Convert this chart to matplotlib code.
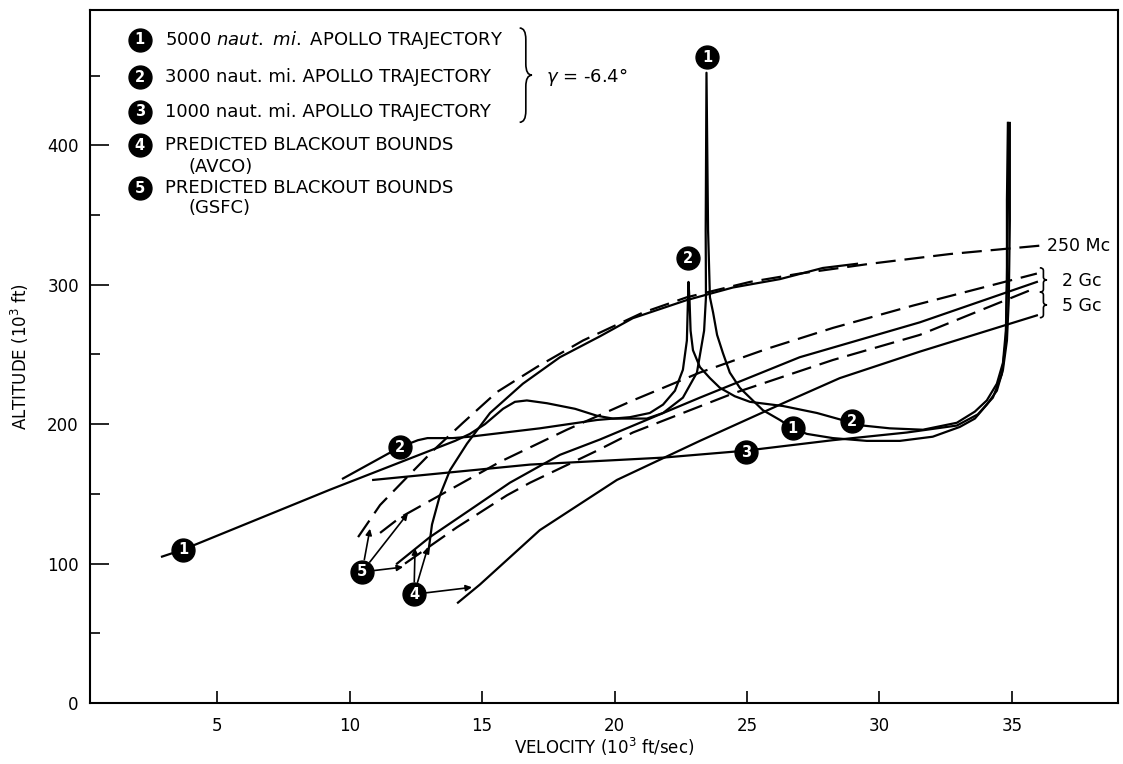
import matplotlib
matplotlib.use("Agg")
import matplotlib.pyplot as plt
from matplotlib.path import Path
from matplotlib.patches import PathPatch

plt.rcParams['font.family'] = ['DejaVu Sans']

# Apollo trajectories: velocity (10^3 ft/sec), altitude (10^3 ft)
traj1_v = [2.92, 3.71, 9.26, 13.98, 14.54, 15.11, 15.79, 16.24, 16.69, 17.45,
           18.51, 19.34, 19.94, 21.22, 21.83, 22.58, 23.11, 23.38, 23.45, 23.44,
           23.47, 23.53, 23.60, 23.72, 23.87, 24.09, 24.35, 24.73, 25.11, 25.60,
           26.24, 26.73, 27.26, 28.24, 29.52, 30.77, 32.01, 33.03, 33.60, 34.05,
           34.43, 34.66, 34.81, 34.88, 34.92, 34.92]
traj1_h = [105, 110, 153, 188, 193, 200, 211, 216, 217, 215,
           211, 206, 204, 204, 208, 219, 237, 267, 291, 339,
           452, 339, 291, 280, 264, 251, 237, 226, 219, 210,
           203, 197, 193, 190, 188, 188, 191, 198, 204, 214,
           224, 239, 260, 289, 346, 416]

traj2_v = [9.75, 11.90, 12.58, 12.94, 13.90, 14.54, 17.18, 19.34, 20.58, 21.33,
           21.83, 22.28, 22.58, 22.73, 22.77, 22.79, 22.83, 22.87, 22.96, 23.22,
           23.60, 23.98, 24.54, 25.11, 26.36, 27.64, 28.96, 29.37, 30.39, 31.64,
           32.92, 33.60, 34.05, 34.43, 34.66, 34.77, 34.81, 34.81, 34.85]
traj2_h = [161, 183.5, 188.5, 190, 190, 191, 197, 203, 205, 208,
           214, 224, 239, 260, 289, 302, 289, 267, 253, 241,
           233, 226, 220, 216, 213, 208, 201, 199, 197, 196,
           201, 209, 217, 229, 244, 267, 303, 361, 416]

traj3_v = [10.89, 16.81, 21.83, 24.96, 28.24, 31.03, 32.92, 33.71, 34.28, 34.62,
           34.77, 34.81, 34.85, 34.85]
traj3_h = [160, 171, 176, 181, 188.5, 194, 199, 207, 219, 236,
           260, 303, 361, 416]

# predicted blackout bounds, AVCO (solid) and GSFC (dashed)
avco_250_v = [12.97, 13.11, 13.41, 13.79, 14.43, 15.30, 16.54, 17.94, 19.45, 20.69,
              22.73, 24.47, 26.24, 27.86, 29.15]
avco_250_h = [108, 128, 149, 167, 186, 208, 229, 248, 263, 276,
              289, 298, 304, 312, 315]
gsfc_250_v = [10.32, 11.15, 12.17, 13.15, 14.28, 15.56, 17.07, 18.81, 21.07, 22.73,
              25.11, 26.99, 29.64, 32.66, 34.92, 36.05]
gsfc_250_h = [119, 142, 162, 181, 201, 223, 241, 260, 280, 291,
              302, 308, 315, 322, 326, 328]

avco_2g_v = [11.79, 13.03, 14.66, 16.05, 17.94, 19.45, 23.22, 26.99, 31.52, 35.94]
avco_2g_h = [100, 119, 140, 158, 178, 189, 219, 248, 273, 302]
gsfc_2g_v = [11.15, 11.90, 13.41, 15.68, 18.20, 20.69, 23.22, 25.75, 28.24, 31.26, 35.94]
gsfc_2g_h = [122, 133, 149, 173, 196, 217, 237, 254, 269, 285, 308]

avco_5g_v = [14.09, 14.92, 17.18, 20.09, 23.22, 26.36, 28.50, 31.52, 35.94]
avco_5g_h = [72, 85, 124, 160, 188, 215, 233, 252, 278]
gsfc_5g_v = [12.09, 14.05, 15.94, 16.81, 19.34, 20.69, 24.47, 28.24, 31.52, 35.94]
gsfc_5g_h = [100, 126, 149, 158, 181, 194, 222, 246, 264, 298]

# numbered callouts on the curves
marker_v = [3.71, 23.49, 26.73, 11.90, 22.77, 28.96, 24.96, 12.43, 10.47]
marker_h = [110, 463, 197, 183.5, 319, 202, 180, 78, 94]
marker_num = [1, 1, 1, 2, 2, 2, 3, 4, 5]

# arrows from callouts 4 and 5 to the start of each bound
arrow_src = [5, 5, 5, 4, 4, 4]
arrow_v = [10.77, 12.20, 12.02, 12.47, 12.96, 14.62]
arrow_h = [125, 136, 97.5, 111, 112, 83]

x_ticks = [5, 10, 15, 20, 25, 30, 35]
y_ticks = [0, 100, 200, 300, 400]

legend_rows = [r"5000 $\it{naut.\ mi.}$ APOLLO TRAJECTORY",
               "3000 naut. mi. APOLLO TRAJECTORY",
               "1000 naut. mi. APOLLO TRAJECTORY",
               "PREDICTED BLACKOUT BOUNDS",
               "PREDICTED BLACKOUT BOUNDS"]
legend_sub = ["(AVCO)", "(GSFC)"]


def brace(ax, x, y0, y1, w, lw=1.2):
    """Right-facing curly brace in axes coords."""
    ym = (y0 + y1) / 2
    q = (y1 - y0) * 0.12
    xm = x + w / 2
    verts = [(x, y1), (xm, y1), (xm, y1 - q),
             (xm, ym + q),
             (xm, ym), (x + w, ym),
             (xm, ym), (xm, ym - q),
             (xm, y0 + q),
             (xm, y0), (x, y0)]
    codes = [Path.MOVETO, Path.CURVE3, Path.CURVE3,
             Path.LINETO,
             Path.CURVE3, Path.CURVE3,
             Path.CURVE3, Path.CURVE3,
             Path.LINETO,
             Path.CURVE3, Path.CURVE3]
    ax.add_patch(PathPatch(Path(verts, codes), fill=False, lw=lw, color='k',
                           transform=ax.transAxes, clip_on=False))


def callout(ax, x, y, num, transform=None):
    kw = {} if transform is None else {'transform': transform}
    ax.plot([x], [y], 'o', ms=16.5, color='black', zorder=5, clip_on=False, **kw)
    ax.text(x, y, str(num), color='white', fontsize=10.5, fontweight='bold',
            ha='center', va='center', zorder=6, **kw)


fig = plt.figure(figsize=(11.23, 7.64), dpi=100)
ax = fig.add_axes([0.0801, 0.0798, 0.9154, 0.9071])

line_kw = dict(color='black', lw=1.6, solid_joinstyle='round', zorder=3)
dash = (0, (9, 4))

for v, h in [(traj1_v, traj1_h), (traj2_v, traj2_h), (traj3_v, traj3_h),
             (avco_250_v, avco_250_h), (avco_2g_v, avco_2g_h), (avco_5g_v, avco_5g_h)]:
    ax.plot(v, h, **line_kw)
for v, h in [(gsfc_250_v, gsfc_250_h), (gsfc_2g_v, gsfc_2g_h), (gsfc_5g_v, gsfc_5g_h)]:
    ax.plot(v, h, linestyle=dash, color='black', lw=1.6, zorder=3)

src_pos = {n: (v, h) for v, h, n in zip(marker_v, marker_h, marker_num) if n in (4, 5)}
for s, v, h in zip(arrow_src, arrow_v, arrow_h):
    ax.annotate('', xy=(v, h), xytext=src_pos[s],
                arrowprops=dict(arrowstyle='-|>', color='black', lw=1.2,
                                shrinkA=9, shrinkB=0, mutation_scale=9))

for v, h, n in zip(marker_v, marker_h, marker_num):
    callout(ax, v, h, n)

# legend block
leg_y = [0.957, 0.903, 0.853, 0.805, 0.743]
for i, (y, txt) in enumerate(zip(leg_y, legend_rows)):
    callout(ax, 0.0486, y, i + 1, transform=ax.transAxes)
    ax.text(0.073, y, txt, transform=ax.transAxes, fontsize=13, va='center')
for y, txt in zip([0.773, 0.714], legend_sub):
    ax.text(0.096, y, txt, transform=ax.transAxes, fontsize=13, va='center')
brace(ax, 0.418, 0.838, 0.974, 0.012)
ax.text(0.444, 0.903, r'$\gamma$ = -6.4°', transform=ax.transAxes,
        fontsize=13, va='center')

# frequency labels on the right
ax.text(0.931, 0.659, '250 Mc', transform=ax.transAxes, fontsize=12.5, va='center')
brace(ax, 0.924, 0.593, 0.628, 0.007)
brace(ax, 0.924, 0.556, 0.593, 0.007)
ax.text(0.9455, 0.609, '2 Gc', transform=ax.transAxes, fontsize=12.5, va='center')
ax.text(0.9455, 0.573, '5 Gc', transform=ax.transAxes, fontsize=12.5, va='center')

ax.set_xlim(0.2, 39.0)
ax.set_ylim(0, 497)
ax.set_xticks(x_ticks)
ax.set_yticks(y_ticks)
ax.set_yticks([50, 150, 250, 350, 450], minor=True)
ax.tick_params(axis='x', direction='in', length=9, width=1.2, pad=10, labelsize=12)
ax.tick_params(axis='y', which='major', direction='in', length=14, width=1.2,
               pad=8, labelsize=12)
ax.tick_params(axis='y', which='minor', direction='in', length=7, width=1.2)
for sp in ax.spines.values():
    sp.set_linewidth(1.5)

ax.set_xlabel('VELOCITY (10$^3$ ft/sec)', fontsize=12)
ax.set_ylabel('ALTITUDE (10$^3$ ft)', fontsize=12)
ax.xaxis.set_label_coords(0.5, -0.048)
ax.yaxis.set_label_coords(-0.057, 0.5)

fig.savefig('out.png', dpi=100)
